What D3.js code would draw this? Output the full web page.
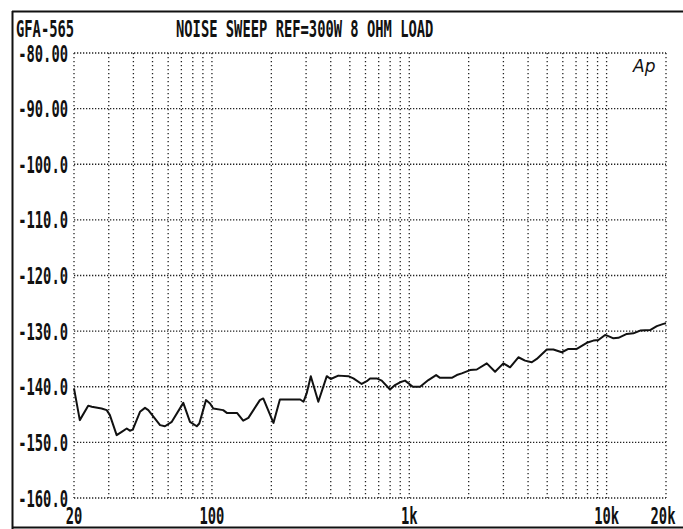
<!DOCTYPE html>
<html><head><meta charset="utf-8">
<script src="https://cdn.jsdelivr.net/npm/d3@7"></script>
<style>html,body{margin:0;padding:0;background:#fff;}svg{display:block;}</style>
</head><body>
<svg id="chart" width="683" height="529"></svg>
<script>
const title = "NOISE SWEEP REF=300W 8 OHM LOAD";
const model = "GFA-565";
const yTicks = [-80, -90, -100, -110, -120, -130, -140, -150, -160];
const yTickLabels = ["-80.00", "-90.00", "-100.0", "-110.0", "-120.0", "-130.0", "-140.0", "-150.0", "-160.0"];
const xTicks = [20, 100, 1000, 10000, 20000];
const xTickLabels = ["20", "100", "1k", "10k", "20k"];
const gridFreqs = [30,40,50,60,70,80,90,100,200,300,400,500,600,700,800,900,1000,2000,3000,4000,5000,6000,7000,8000,9000,10000];

const freq = [20,21.4,23.6,24.6,27.6,29.3,30.4,32.9,34.9,37.0,38.4,39.7,43.2,45.8,47.6,54.6,57.8,62.6,71.6,77.4,
  83.8,86.3,93.3,97.8,101.6,114,119,134,144,153,175,182,205,221,280,291,302,317,346,382,
  400,437,491,521,574,609,633,684,725,799,847,898,952,1001,1042,1135,1250,1368,1432,1642,
  1741,1845,2033,2198,2471,2722,2998,3242,3572,3862,4177,4428,4976,5374,5929,6404,7064,7936,8570,9087,
  9826,10210,10830,11480,12660,13670,14790,16610,17970,19400,20000];
const level = [-140.3,-146.0,-143.4,-143.6,-143.9,-144.2,-145.1,-148.7,-148.1,-147.5,-147.9,-147.7,-144.5,-143.8,-144.2,-146.9,-147.1,-146.3,-142.9,-146.3,
  -147.1,-146.6,-142.4,-143.0,-143.9,-144.2,-144.7,-144.7,-146.1,-145.6,-142.4,-142.1,-146.5,-142.3,-142.3,-142.7,-141.2,-138.1,-142.7,-138.1,
  -138.6,-138.0,-138.1,-138.5,-139.5,-139.0,-138.5,-138.5,-138.9,-140.5,-139.7,-139.2,-138.9,-139.5,-140.0,-140.0,-138.8,-137.9,-138.4,-138.4,
  -137.9,-137.6,-137.0,-136.9,-135.8,-137.3,-135.8,-136.5,-134.7,-135.3,-135.6,-135.0,-133.3,-133.3,-133.8,-133.2,-133.2,-132.1,-131.7,-131.6,
  -130.7,-130.9,-131.3,-131.2,-130.5,-130.4,-129.9,-129.8,-129.1,-128.7,-128.6];

const svg = d3.select("#chart");
const pl = 74, pr = 666, pt = 53, pb = 498;
const x = d3.scaleLog().domain([20, 20000]).range([pl, pr]);
const y = d3.scaleLinear().domain([-160, -80]).range([pb, pt]);
const FONT = "'DejaVu Sans Mono', monospace";
const SX = 0.6;

// frame
svg.append("line").attr("x1", 12).attr("x2", 683).attr("y1", 11.5).attr("y2", 11.5).attr("stroke", "#111").attr("stroke-width", 2.2);
svg.append("line").attr("x1", 12.5).attr("x2", 12.5).attr("y1", 11).attr("y2", 529).attr("stroke", "#111").attr("stroke-width", 2);
svg.append("line").attr("x1", 12).attr("x2", 683).attr("y1", 527.5).attr("y2", 527.5).attr("stroke", "#111").attr("stroke-width", 2);

// grid
const g = svg.append("g");
g.selectAll("line.h").data(yTicks).join("line").attr("class", "h")
  .attr("x1", pl).attr("x2", pr).attr("y1", d => y(d)).attr("y2", d => y(d))
  .attr("stroke", "#222").attr("stroke-width", 1.3).attr("stroke-dasharray", "1.3,1.7");
g.selectAll("line.v").data([20].concat(gridFreqs, [20000])).join("line").attr("class", "v")
  .attr("x1", d => x(d)).attr("x2", d => x(d)).attr("y1", pt).attr("y2", pb)
  .attr("stroke", "#222").attr("stroke-width", 1.3).attr("stroke-dasharray", "1.3,2.7");

// curve
const line = d3.line().x((d, i) => x(freq[i])).y((d, i) => y(level[i]));
svg.append("path").datum(level).attr("d", line).attr("fill", "none")
  .attr("stroke", "#111").attr("stroke-width", 2).attr("stroke-linejoin", "round");

function txt(s, tx, ty, anchor) {
  svg.append("text").attr("transform", `translate(${tx},${ty}) scale(${SX},1)`)
    .attr("text-anchor", anchor).attr("font-family", FONT).attr("font-size", 23)
    .attr("font-weight", "bold").attr("fill", "#111").text(s);
}
// y labels
yTicks.forEach((t, i) => txt(yTickLabels[i], 68, y(t) + 8.5, "end"));
// x labels
xTicks.forEach((t, i) => txt(xTickLabels[i], Math.min(x(t), 663), 524, "middle"));
// title
txt(model, 16, 37, "start");
txt(title, 176, 37, "start");
// Ap logo
svg.append("text").attr("x", 633).attr("y", 72).attr("font-family", "'DejaVu Sans', sans-serif")
  .attr("font-style", "italic").attr("font-size", 17).attr("fill", "#111").text("Ap");
</script>
</body></html>
